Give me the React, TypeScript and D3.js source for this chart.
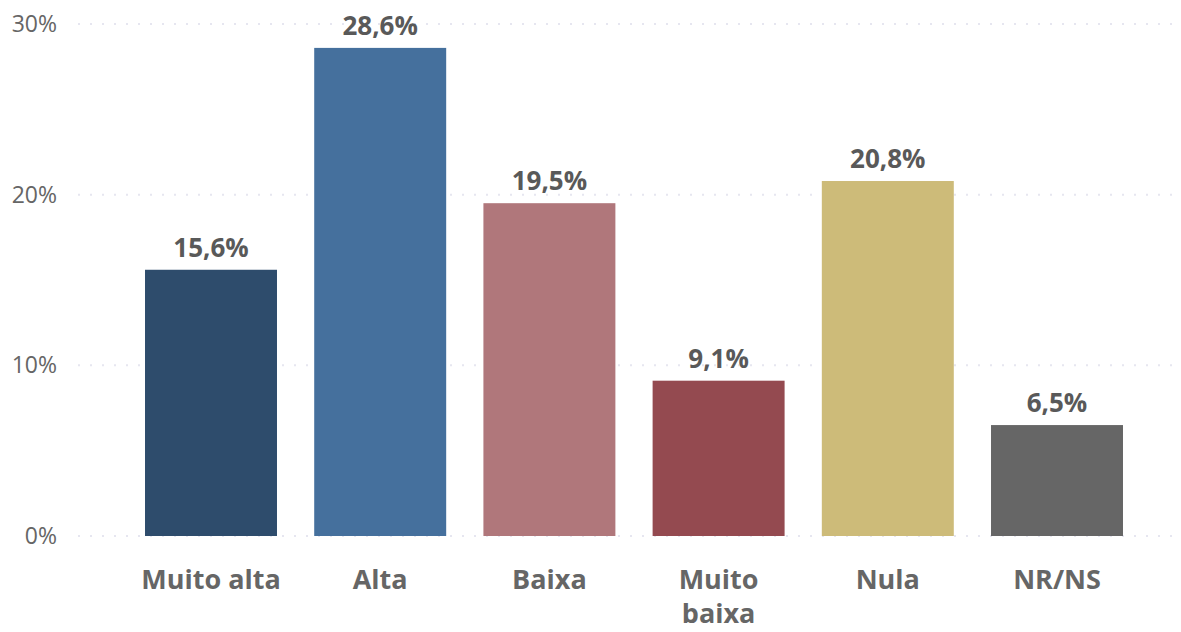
import { useEffect, useRef } from "react";
import * as d3 from "d3";

const categories = ["Muito alta", "Alta", "Baixa", "Muito baixa", "Nula", "NR/NS"];
const values = [15.6, 28.6, 19.5, 9.1, 20.8, 6.5];
const colors = ["#2E4C6C", "#45709D", "#B0777B", "#944A50", "#CDBB79", "#666666"];
const yTicks = [0, 10, 20, 30];

export default function App() {
  const svgRef = useRef<SVGSVGElement | null>(null);

  useEffect(() => {
    if (!svgRef.current) return;
    const width = 1181;
    const height = 632;
    const font = "'Open Sans', 'Noto Sans', sans-serif";

    const svg = d3.select(svgRef.current);
    svg.selectAll("*").remove();
    svg.attr("width", width).attr("height", height);

    const x = d3.scaleBand<string>()
      .domain(categories)
      .range([126.4, 1141.6])
      .paddingInner(0.22)
      .paddingOuter(0.11);

    const y = d3.scaleLinear().domain([0, 30]).range([536, 24]);

    // gridlines
    svg.append("g")
      .selectAll("line")
      .data(yTicks)
      .enter()
      .append("line")
      .attr("x1", 78)
      .attr("x2", width)
      .attr("y1", d => y(d))
      .attr("y2", d => y(d))
      .attr("stroke", "#E6E6F0")
      .attr("stroke-width", 2)
      .attr("stroke-dasharray", "2,10");

    // y tick labels
    svg.append("g")
      .selectAll("text")
      .data(yTicks)
      .enter()
      .append("text")
      .attr("x", 57)
      .attr("y", d => y(d))
      .attr("dy", "0.35em")
      .attr("text-anchor", "end")
      .attr("font-family", font)
      .attr("font-size", 23)
      .attr("fill", "#666666")
      .text(d => `${d}%`);

    const rows = categories.map((c, i) => ({ c, v: values[i], color: colors[i] }));

    svg.append("g")
      .selectAll("rect")
      .data(rows)
      .enter()
      .append("rect")
      .attr("x", d => x(d.c)!)
      .attr("y", d => y(d.v))
      .attr("width", x.bandwidth())
      .attr("height", d => y(0) - y(d.v))
      .attr("fill", d => d.color);

    svg.append("g")
      .selectAll("text")
      .data(rows)
      .enter()
      .append("text")
      .attr("x", d => x(d.c)! + x.bandwidth() / 2)
      .attr("y", d => y(d.v) - 13)
      .attr("text-anchor", "middle")
      .attr("font-family", font)
      .attr("font-size", 26)
      .attr("font-weight", 700)
      .attr("fill", "#595959")
      .text(d => `${d.v.toFixed(1).replace(".", ",")}%`);

    // category labels, wrapped when the band is too narrow
    const cat = svg.append("g")
      .selectAll("text")
      .data(rows)
      .enter()
      .append("text")
      .attr("x", d => x(d.c)! + x.bandwidth() / 2)
      .attr("y", 589)
      .attr("text-anchor", "middle")
      .attr("font-family", font)
      .attr("font-size", 27)
      .attr("font-weight", 700)
      .attr("fill", "#666666");

    cat.each(function (d) {
      const t = d3.select(this);
      const lines = d.c === "Muito baixa" ? ["Muito", "baixa"] : [d.c];
      lines.forEach((ln, i) => {
        t.append("tspan")
          .attr("x", x(d.c)! + x.bandwidth() / 2)
          .attr("dy", i === 0 ? 0 : 34)
          .text(ln);
      });
    });
  }, []);

  return <svg ref={svgRef} style={{ position: "absolute", left: 0, top: 0 }} />;
}
